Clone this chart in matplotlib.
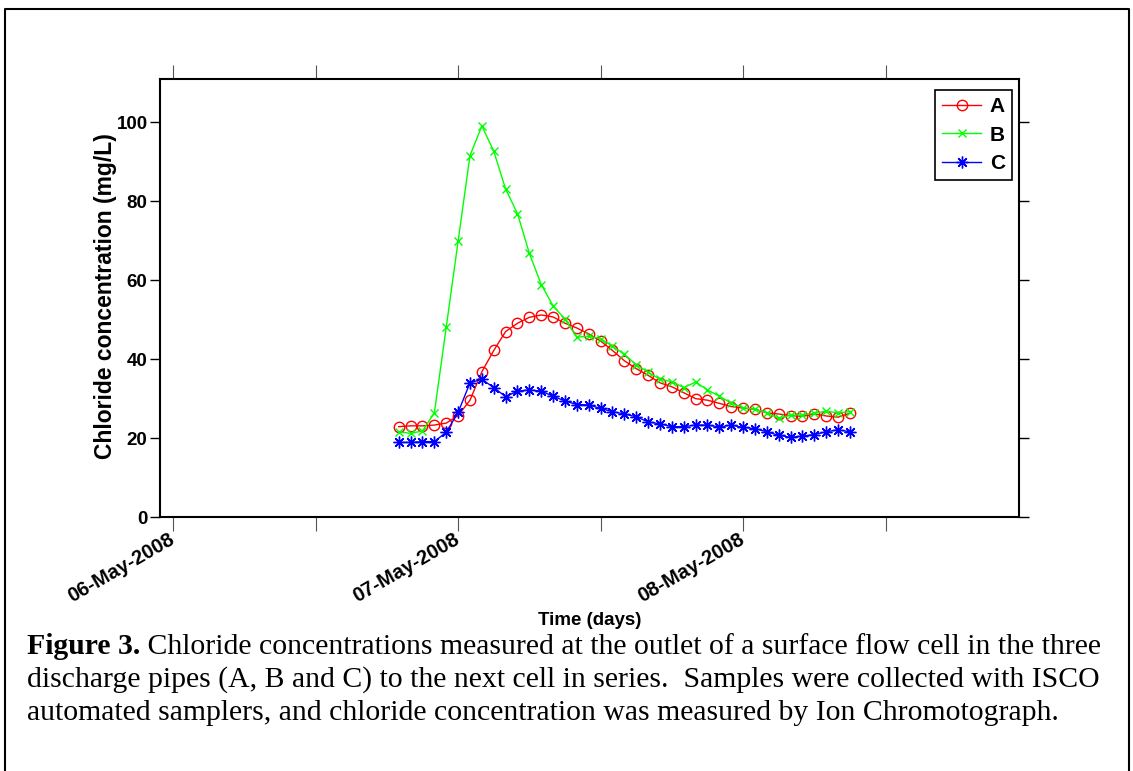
import numpy as np
import pandas as pd
import matplotlib
matplotlib.use('Agg')
import matplotlib.pyplot as plt
import matplotlib.dates as mdates
from matplotlib.ticker import FuncFormatter
from matplotlib.lines import Line2D

# hourly samples, 06-May 19:00 to 08-May 09:00
times = pd.date_range('2008-05-06 19:00', '2008-05-08 09:00', freq='h')

pipe_a = [22.9, 23.1, 23.1, 23.3, 23.8, 25.7, 29.6, 36.8, 42.2, 47.0,
          49.1, 50.6, 51.2, 50.7, 49.1, 47.9, 46.4, 44.6, 42.2, 39.6,
          37.6, 35.9, 34.0, 33.0, 31.5, 30.0, 29.6, 28.8, 28.0, 27.6,
          27.3, 26.4, 26.1, 25.7, 25.5, 26.1, 25.6, 25.3, 26.3]
pipe_b = [21.6, 21.2, 21.8, 26.4, 48.1, 69.9, 91.6, 99.1, 92.7, 83.1,
          76.9, 66.8, 58.9, 53.5, 50.1, 45.6, 45.8, 45.2, 43.3, 41.2,
          38.6, 36.7, 34.9, 34.3, 32.8, 34.2, 32.2, 30.6, 28.9, 27.7,
          27.3, 26.4, 25.0, 25.8, 25.9, 26.3, 26.8, 26.4, 26.7]
pipe_c = [18.9, 18.9, 19.1, 19.1, 21.5, 26.5, 34.0, 34.9, 32.8, 30.5,
          31.9, 32.2, 31.9, 30.6, 29.4, 28.5, 28.4, 27.5, 26.7, 26.1,
          25.4, 24.1, 23.6, 22.9, 22.9, 23.3, 23.3, 22.8, 23.3, 22.7,
          22.4, 21.6, 20.7, 20.2, 20.5, 20.9, 21.6, 22.1, 21.6]

y_ticks = [0, 20, 40, 60, 80, 100]

sans = ['Liberation Sans Narrow', 'Liberation Sans', 'DejaVu Sans']
serif = ['Liberation Serif', 'DejaVu Serif']

fig = plt.figure(figsize=(11.33, 7.71), dpi=100)
ax = fig.add_axes([160/1133, 254/771, 859/1133, 438/771])

ax.plot(times, pipe_a, color='#ff0000', lw=1.0, marker='o', mfc='none',
        mec='#ff0000', ms=7.5, mew=1.0, label='A')
ax.plot(times, pipe_b, color='#00ff00', lw=1.0, marker='x',
        ms=6, mew=1.0, label='B')
ax.plot(times, pipe_c, color='#0000ff', lw=1.0, marker=(8, 2, 0),
        ms=8.5, mew=1.0, label='C')

x0 = mdates.date2num(pd.Timestamp('2008-05-06'))
ax.set_xlim(x0 - 0.046, x0 + 2.968)
ax.set_ylim(0, 111)
ax.set_yticks(y_ticks)

ax.xaxis.set_major_locator(mdates.HourLocator(byhour=[0, 12]))
def day_label(v, pos):
    d = mdates.num2date(v)
    return d.strftime('%d-%b-%Y') if d.hour == 0 else ''
ax.xaxis.set_major_formatter(FuncFormatter(day_label))

ax.tick_params(axis='x', direction='out', top=True, length=10, width=0.8,
               color='#555555', pad=5)
ax.tick_params(axis='y', direction='out', right=True, length=7, width=1.0, pad=2)
for lbl in ax.get_xticklabels():
    lbl.set_rotation(30)
    lbl.set_ha('right')
    lbl.set_va('center')
    lbl.set_rotation_mode('anchor')
    lbl.set_fontfamily(sans)
    lbl.set_fontweight('bold')
    lbl.set_fontsize(14.5)
for lbl in ax.get_yticklabels():
    lbl.set_fontfamily(sans)
    lbl.set_fontweight('bold')
    lbl.set_fontsize(13.5)

for s in ax.spines.values():
    s.set_linewidth(1.5)

ax.set_ylabel('Chloride concentration (mg/L)', fontsize=16.5, fontweight='bold',
              family=['Liberation Sans', 'DejaVu Sans'], va='center')
ax.yaxis.set_label_coords(-0.064, 0.505)
ax.set_xlabel('Time (days)', fontsize=13.5, fontweight='bold', family=sans, va='center')
ax.xaxis.set_label_coords(0.5, -0.237)

leg = ax.legend(loc='upper right', bbox_to_anchor=(0.992, 0.975), borderaxespad=0,
                fancybox=False, framealpha=1, edgecolor='black',
                prop={'family': sans, 'weight': 'bold', 'size': 15},
                handlelength=1.9, labelspacing=0.45, handletextpad=0.4,
                borderpad=0.35)
leg.get_frame().set_linewidth(1.2)

# frame around the figure
fig.add_artist(Line2D([5/1133, 5/1133, 1129/1133, 1129/1133],
                      [0, 1 - 9/771, 1 - 9/771, 0], transform=fig.transFigure,
                      color='black', lw=1.5))

# caption
cap_x = 27/1133
line_y = [1 - 647/771, 1 - 680/771, 1 - 713/771]
fs = 21.4
t = fig.text(cap_x, line_y[0], 'Figure 3.', fontsize=fs, fontweight='bold',
             family=serif, va='center')
fig.canvas.draw()
bb = t.get_window_extent(fig.canvas.get_renderer())
fig.text(bb.x1 / fig.bbox.width, line_y[0],
         ' Chloride concentrations measured at the outlet of a surface flow cell in the three',
         fontsize=fs, family=serif, va='center')
fig.text(cap_x, line_y[1],
         'discharge pipes (A, B and C) to the next cell in series.  Samples were collected with ISCO',
         fontsize=fs, family=serif, va='center')
fig.text(cap_x, line_y[2],
         'automated samplers, and chloride concentration was measured by Ion Chromotograph.',
         fontsize=fs, family=serif, va='center')

fig.savefig('out.png', dpi=100)
